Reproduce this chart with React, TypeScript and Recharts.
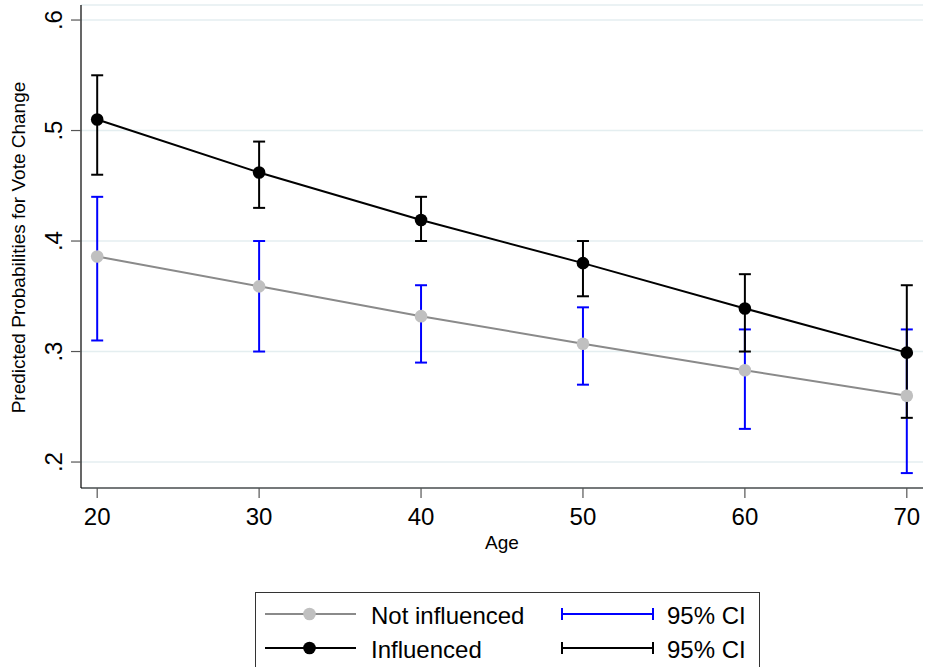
import { ComposedChart, Line, XAxis, YAxis, CartesianGrid, ErrorBar } from "recharts";

const ages = [20, 30, 40, 50, 60, 70];

const notInfluenced = [0.386, 0.359, 0.332, 0.307, 0.283, 0.26];
const notInfluencedLow = [0.31, 0.3, 0.29, 0.27, 0.23, 0.19];
const notInfluencedHigh = [0.44, 0.4, 0.36, 0.34, 0.32, 0.32];

const influenced = [0.51, 0.462, 0.419, 0.38, 0.339, 0.299];
const influencedLow = [0.46, 0.43, 0.4, 0.35, 0.3, 0.24];
const influencedHigh = [0.55, 0.49, 0.44, 0.4, 0.37, 0.36];

const yTicks = [0.2, 0.3, 0.4, 0.5, 0.6];
const xTicks = [20, 30, 40, 50, 60, 70];

const FONT = "'Liberation Sans', Arial, Helvetica, sans-serif";
const GREY_LINE = "#8a8a8a";
const GREY_DOT = "#c0c0c0";
const BLUE = "#0000ff";

const data = ages.map((age, i) => ({
  age,
  notInf: notInfluenced[i],
  notInfErr: [notInfluenced[i] - notInfluencedLow[i], notInfluencedHigh[i] - notInfluenced[i]],
  inf: influenced[i],
  infErr: [influenced[i] - influencedLow[i], influencedHigh[i] - influenced[i]],
}));

function fmt(v: number) {
  return String(Math.round(v * 10) / 10).replace(/^0/, "");
}

function YTick({ x, y, payload }: any) {
  return (
    <text
      x={x}
      y={y}
      transform={`rotate(-90 ${x} ${y})`}
      textAnchor="middle"
      fontSize={24}
      fontFamily={FONT}
      fill="#000"
    >
      {fmt(payload.value)}
    </text>
  );
}

function YLabel({ viewBox }: any) {
  const cx = 25;
  const cy = viewBox.y + viewBox.height / 2 + 1;
  return (
    <text
      x={cx}
      y={cy}
      transform={`rotate(-90 ${cx} ${cy})`}
      textAnchor="middle"
      fontSize={19}
      fontFamily={FONT}
      fill="#000"
    >
      Predicted Probabilities for Vote Change
    </text>
  );
}

function XLabel({ viewBox }: any) {
  return (
    <text
      x={viewBox.x + viewBox.width / 2}
      y={549}
      textAnchor="middle"
      fontSize={19}
      fontFamily={FONT}
      fill="#000"
    >
      Age
    </text>
  );
}

function LegendBox() {
  const rows = [
    { label: "Not influenced", line: GREY_LINE, dot: GREY_DOT, ci: BLUE, y: 614, base: 624 },
    { label: "Influenced", line: "#000", dot: "#000", ci: "#000", y: 648, base: 658 },
  ];
  return (
    <svg
      width={930}
      height={667}
      style={{ position: "absolute", left: 0, top: 0, pointerEvents: "none" }}
    >
      <rect x={255.5} y={592.5} width={504} height={100} fill="#fff" stroke="#333" strokeWidth={1} />
      {rows.map((r) => (
        <g key={r.label}>
          <line x1={265} x2={356} y1={r.y} y2={r.y} stroke={r.line} strokeWidth={2} />
          <circle cx={309.5} cy={r.y} r={6.3} fill={r.dot} />
          <text x={371} y={r.base} fontSize={24} fontFamily={FONT} fill="#000">
            {r.label}
          </text>
          <line x1={562} x2={653} y1={r.y} y2={r.y} stroke={r.ci} strokeWidth={2} />
          <line x1={562} x2={562} y1={r.y - 6} y2={r.y + 6} stroke={r.ci} strokeWidth={2} />
          <line x1={653} x2={653} y1={r.y - 6} y2={r.y + 6} stroke={r.ci} strokeWidth={2} />
          <text x={667} y={r.base} fontSize={24} fontFamily={FONT} fill="#000">
            95% CI
          </text>
        </g>
      ))}
    </svg>
  );
}

export default function App() {
  return (
    <div style={{ position: "absolute", left: 0, top: 0, width: 930, height: 667, overflow: "hidden", background: "#fff" }}>
      <ComposedChart width={930} height={667} data={data} margin={{ top: 5, right: 7, left: 0, bottom: 0 }}>
        <CartesianGrid horizontal vertical={false} stroke="#e4eef0" strokeWidth={1.5} />
        <XAxis
          dataKey="age"
          type="number"
          domain={[19, 71]}
          ticks={xTicks}
          height={179}
          tickSize={10}
          tickMargin={10}
          axisLine={{ stroke: "#000", strokeWidth: 1.2 }}
          tickLine={{ stroke: "#555", strokeWidth: 1.2 }}
          tick={{ fontSize: 24, fontFamily: FONT, fill: "#000" }}
          label={<XLabel />}
        />
        <YAxis
          type="number"
          domain={[0.1765, 0.6136]}
          ticks={yTicks}
          width={81}
          tickSize={10}
          tickMargin={9}
          axisLine={{ stroke: "#000", strokeWidth: 1.2 }}
          tickLine={{ stroke: "#555", strokeWidth: 1.2 }}
          tick={<YTick />}
          label={<YLabel />}
          allowDataOverflow
        />
        <Line dataKey="notInf" stroke={GREY_LINE} strokeWidth={2} dot={false} isAnimationActive={false}>
          <ErrorBar dataKey="notInfErr" direction="y" width={6} stroke={BLUE} strokeWidth={2} isAnimationActive={false} />
        </Line>
        <Line dataKey="inf" stroke="#000" strokeWidth={2} dot={false} isAnimationActive={false}>
          <ErrorBar dataKey="infErr" direction="y" width={6} stroke="#000" strokeWidth={2} isAnimationActive={false} />
        </Line>
        <Line
          dataKey="notInf"
          stroke="none"
          dot={{ r: 6.3, fill: GREY_DOT, stroke: "none" }}
          isAnimationActive={false}
        />
        <Line
          dataKey="inf"
          stroke="none"
          dot={{ r: 6.3, fill: "#000", stroke: "none" }}
          isAnimationActive={false}
        />
      </ComposedChart>
      <LegendBox />
    </div>
  );
}
